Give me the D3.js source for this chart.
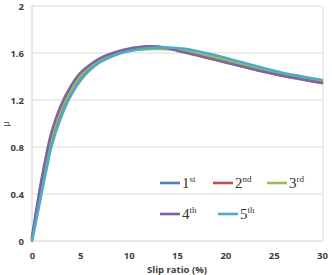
<!DOCTYPE html>
<html>
<head>
<meta charset="utf-8">
<script src="https://cdn.jsdelivr.net/npm/d3@7"></script>
<style>
  body { margin: 0; background: #fff; }
  svg { display: block; }
</style>
</head>
<body>
<div id="chart"></div>
<script>
// slip ratio (%) sample points
const slip = [0, 0.5, 1, 1.5, 2, 3, 4, 5, 6, 7, 8, 9, 10, 11, 12, 13, 14, 15, 16, 18, 20, 22, 24, 26, 28, 30];

// friction coefficient per test run
const run1 = [0.02, 0.27, 0.51, 0.72, 0.9, 1.14, 1.3, 1.415, 1.49, 1.545, 1.583, 1.611, 1.632, 1.648, 1.656, 1.655, 1.645, 1.63, 1.615, 1.575, 1.535, 1.49, 1.45, 1.415, 1.39, 1.36];
const run2 = [0.02, 0.24, 0.47, 0.68, 0.86, 1.10, 1.275, 1.395, 1.475, 1.535, 1.578, 1.606, 1.628, 1.643, 1.652, 1.65, 1.64, 1.625, 1.61, 1.565, 1.525, 1.48, 1.44, 1.405, 1.375, 1.345];
const run3 = [0.02, 0.25, 0.49, 0.70, 0.88, 1.12, 1.285, 1.405, 1.485, 1.54, 1.578, 1.602, 1.618, 1.628, 1.633, 1.634, 1.632, 1.627, 1.617, 1.58, 1.54, 1.495, 1.455, 1.42, 1.39, 1.355];
const run4 = [0.03, 0.29, 0.53, 0.74, 0.92, 1.155, 1.315, 1.43, 1.50, 1.555, 1.59, 1.617, 1.636, 1.648, 1.653, 1.65, 1.64, 1.62, 1.60, 1.56, 1.52, 1.48, 1.44, 1.405, 1.375, 1.345];
const run5 = [0.0, 0.20, 0.41, 0.61, 0.80, 1.05, 1.235, 1.365, 1.455, 1.52, 1.562, 1.594, 1.615, 1.63, 1.64, 1.646, 1.647, 1.643, 1.634, 1.60, 1.56, 1.515, 1.47, 1.43, 1.40, 1.37];

const runNames = ["1", "2", "3", "4", "5"];
const runSup = ["st", "nd", "rd", "th", "th"];
const runColors = ["#4f81bd", "#c0504d", "#9bbb59", "#8064a2", "#4bacc6"];

const xTicks = [0, 5, 10, 15, 20, 25, 30];
const yTicks = [0, 0.4, 0.8, 1.2, 1.6, 2];

const W = 332, H = 275;

const svg = d3.select("#chart").append("svg")
    .attr("width", W)
    .attr("height", H);

const x = d3.scaleLinear().domain([0, 30]).range([32, 322]);
const y = d3.scaleLinear().domain([0, 2]).range([241, 6]);

// gridlines
svg.append("g")
    .selectAll("line")
    .data(yTicks.filter(d => d > 0))
    .join("line")
    .attr("x1", x(0)).attr("x2", x(30))
    .attr("y1", d => y(d)).attr("y2", d => y(d))
    .attr("stroke", "#d9d9d9")
    .attr("stroke-width", 1);

// plot frame: left, bottom, right
svg.append("line")
    .attr("x1", x(0)).attr("x2", x(0))
    .attr("y1", y(2)).attr("y2", y(0))
    .attr("stroke", "#d0d0d0");
svg.append("line")
    .attr("x1", x(0)).attr("x2", x(30))
    .attr("y1", y(0)).attr("y2", y(0))
    .attr("stroke", "#d0d0d0");
svg.append("line")
    .attr("x1", x(30) + 1).attr("x2", x(30) + 1)
    .attr("y1", y(2)).attr("y2", y(0))
    .attr("stroke", "#d9d9d9");

// axes (labels only)
const yAxis = svg.append("g")
    .attr("transform", `translate(${x(0)},0)`)
    .call(d3.axisLeft(y).tickValues(yTicks).tickSize(0).tickPadding(8).tickFormat(d3.format("")));
const xAxis = svg.append("g")
    .attr("transform", `translate(0,${y(0)})`)
    .call(d3.axisBottom(x).tickValues(xTicks).tickSize(0).tickPadding(11));

[xAxis, yAxis].forEach(a => {
    a.select(".domain").remove();
    a.selectAll("text")
        .attr("font-family", "'Open Sans', sans-serif")
        .attr("font-size", 9.5)
        .attr("font-weight", "bold")
        .attr("fill", "#404040");
});

// axis titles
svg.append("text")
    .attr("x", 177).attr("y", 273)
    .attr("text-anchor", "middle")
    .attr("font-family", "'Open Sans', sans-serif")
    .attr("font-size", 9.5)
    .attr("font-weight", "bold")
    .attr("fill", "#404040")
    .text("Slip ratio (%)");
svg.append("text")
    .attr("transform", "translate(9,124) rotate(-90)")
    .attr("text-anchor", "middle")
    .attr("font-family", "'Open Sans', sans-serif")
    .attr("font-size", 9)
    .attr("fill", "#404040")
    .text("μ");

// curves
const series = [run1, run2, run3, run4, run5];
const line = d3.line()
    .x((d, i) => x(slip[i]))
    .y(d => y(d))
    .curve(d3.curveCatmullRom.alpha(0.5));

svg.append("g")
    .selectAll("path")
    .data(series)
    .join("path")
    .attr("d", line)
    .attr("fill", "none")
    .attr("stroke", (d, i) => runColors[i])
    .attr("stroke-width", 2.6)
    .attr("stroke-linecap", "round");

// legend
const legendPos = [[160, 183], [213, 183], [267, 183], [160, 214], [218, 214]];
const lg = svg.append("g")
    .selectAll("g")
    .data(runNames)
    .join("g")
    .attr("transform", (d, i) => `translate(${legendPos[i][0]},${legendPos[i][1]})`);

lg.append("line")
    .attr("x1", 0).attr("x2", 20)
    .attr("stroke", (d, i) => runColors[i])
    .attr("stroke-width", 2.6);

const lt = lg.append("text")
    .attr("x", 22).attr("y", 5)
    .attr("font-family", "'Liberation Serif', serif")
    .attr("font-size", 15)
    .attr("fill", "#333");
lt.append("tspan").text(d => d);
lt.append("tspan")
    .attr("dy", -6)
    .attr("font-size", 9)
    .text((d, i) => runSup[i]);
</script>
</body>
</html>
